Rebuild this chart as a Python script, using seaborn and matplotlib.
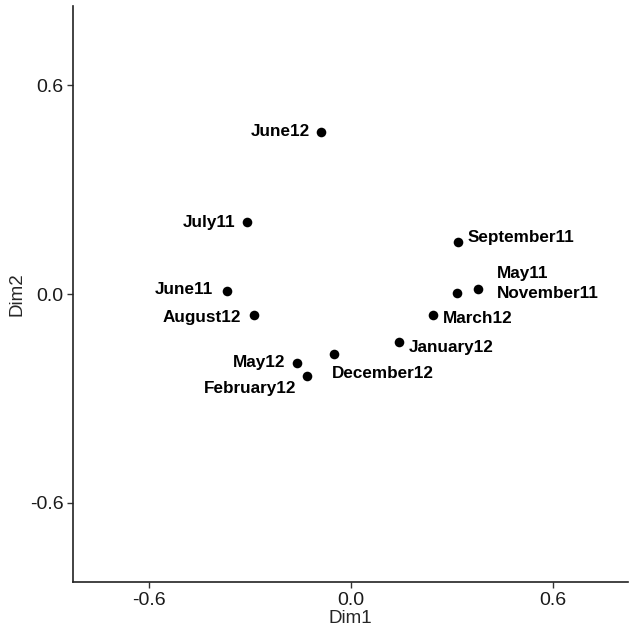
import matplotlib
matplotlib.use("Agg")
import matplotlib.pyplot as plt
import seaborn as sns
import pandas as pd

# MDS coordinates
months = ["June12", "July11", "June11", "August12", "May12", "February12",
          "December12", "January12", "March12", "September11", "November11", "May11"]
dim1 = [-0.089, -0.309, -0.368, -0.288, -0.160, -0.131,
        -0.050, 0.143, 0.244, 0.318, 0.315, 0.377]
dim2 = [0.466, 0.207, 0.009, -0.060, -0.198, -0.236,
        -0.172, -0.138, -0.060, 0.149, 0.003, 0.014]

# label placement (pixel offsets from the point, alignment)
label_pos = {
    "June12": (-11, 0, "right"),
    "July11": (-12, 0, "right"),
    "June11": (-14, 1, "right"),
    "August12": (-13, -3, "right"),
    "May12": (-12, 0, "right"),
    "February12": (-11, -12, "right"),
    "December12": (-2, -20, "left"),
    "January12": (10, -5, "left"),
    "March12": (10, -4, "left"),
    "September11": (10, 5, "left"),
    "November11": (40, -1, "left"),
    "May11": (19, 16, "left"),
}

df = pd.DataFrame({"Dim1": dim1, "Dim2": dim2, "month": months})

sns.set_style("white")
plt.rcParams["font.family"] = ["Liberation Sans", "DejaVu Sans"]

fig = plt.figure(figsize=(6.33, 6.37), dpi=100)
ax = fig.add_axes([0.1153, 0.0863, 0.8767, 0.9043])

sns.scatterplot(data=df, x="Dim1", y="Dim2", ax=ax, color="black",
                s=48, edgecolor="black", linewidth=0)

for _, row in df.iterrows():
    dx, dy, ha = label_pos[row["month"]]
    ax.annotate(row["month"], (row["Dim1"], row["Dim2"]), xytext=(dx, dy),
                textcoords="offset pixels", ha=ha, va="center",
                fontsize=12.3, fontweight="bold", color="black")

ax.set_xlim(-0.826, 0.823)
ax.set_ylim(-0.828, 0.828)
ax.set_xticks([-0.6, 0.0, 0.6])
ax.set_yticks([-0.6, 0.0, 0.6])
ax.set_xticklabels(["-0.6", "0.0", "0.6"])
ax.set_yticklabels(["-0.6", "0.0", "0.6"])
ax.tick_params(axis="both", length=4, width=1, colors="#333333",
               labelsize=14, labelcolor="#1a1a1a", direction="out",
               bottom=True, left=True, pad=3)
ax.set_xlabel("Dim1", fontsize=13.5, labelpad=1)
ax.set_ylabel("Dim2", fontsize=13.5, labelpad=3)

sns.despine(ax=ax)
for side in ["left", "bottom"]:
    ax.spines[side].set_color("#222222")
    ax.spines[side].set_linewidth(1.2)

fig.savefig("out.png", dpi=100)
plt.close(fig)
